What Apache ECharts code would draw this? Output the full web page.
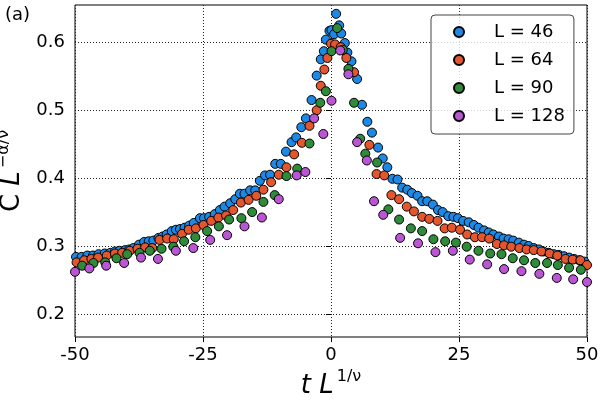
<!DOCTYPE html>
<html>
<head>
<meta charset="utf-8">
<script src="https://cdn.jsdelivr.net/npm/echarts@6/dist/echarts.min.js"></script>
<style>
  html, body { margin: 0; padding: 0; background: #fff; }
  #main { width: 600px; height: 400px; }
</style>
</head>
<body>
<div id="main"></div>
<script>
"use strict";
// values
var l46X = [-49.8, -48.7, -47.6, -46.5, -45.4, -44.2, -43.1, -42.2, -41.3, -40.2, -39.4, -38.6, -37.5, -36.5, -35.6, -34.7,
  -33.7, -32.9, -32.1, -31.1, -30.3, -29.5, -28.6, -27.7, -26.8, -25.6, -24.8, -23.8, -22.7, -21.7, -20.8, -19.7,
  -18.7, -17.8, -16.9, -15.8, -14.8, -13.9, -12.9, -11.9, -10.9, -9.8, -8.8, -7.7, -6.8, -5.8, -4.9, -3.8,
  -2.8, -2.0, -1.4, -1.0, -0.3, 0.1, 0.6, 1.0, 1.6, 2.0, 2.7, 3.2, 4.0, 5.1, 6.05, 7.1,
  8.0, 9.2, 10.1, 11.0, 12.0, 13.0, 13.9, 14.9, 15.8, 16.9, 17.8, 18.8, 19.9, 20.9, 21.8, 22.9,
  23.9, 24.8, 25.8, 26.9, 27.9, 28.8, 29.9, 30.8, 31.7, 32.8, 33.7, 34.7, 35.6, 36.7, 37.7, 38.6,
  39.6, 40.6, 41.5, 42.5, 43.5, 44.5, 45.5, 46.5, 47.5, 48.5, 49.5];
var l46Y = [0.284, 0.284, 0.286, 0.286, 0.288, 0.289, 0.290, 0.292, 0.293, 0.294, 0.295, 0.297, 0.302, 0.306, 0.307, 0.308,
  0.312, 0.314, 0.317, 0.322, 0.324, 0.325, 0.327, 0.330, 0.334, 0.341, 0.341, 0.343, 0.347, 0.353, 0.358, 0.363,
  0.369, 0.377, 0.377, 0.382, 0.382, 0.396, 0.404, 0.405, 0.421, 0.421, 0.439, 0.453, 0.460, 0.475, 0.488, 0.515,
  0.551, 0.575, 0.587, 0.604, 0.617, 0.618, 0.612, 0.642, 0.625, 0.613, 0.599, 0.585, 0.572, 0.546, 0.508, 0.483,
  0.467, 0.445, 0.429, 0.416, 0.399, 0.398, 0.386, 0.383, 0.378, 0.374, 0.366, 0.366, 0.361, 0.353, 0.350, 0.344,
  0.343, 0.341, 0.337, 0.335, 0.331, 0.327, 0.323, 0.320, 0.317, 0.314, 0.311, 0.310, 0.308, 0.305, 0.302, 0.300,
  0.297, 0.295, 0.292, 0.290, 0.288, 0.287, 0.285, 0.283, 0.281, 0.279, 0.277];

var l64X = [-49.7, -48.2, -46.8, -45.5, -43.8, -42.2, -40.8, -39.3, -37.8, -36.3, -34.9, -33.5, -32.0, -30.7, -29.1, -27.8,
  -26.4, -24.9, -23.4, -22.0, -20.5, -19.1, -17.6, -16.1, -14.6, -13.2, -11.7, -10.2, -8.7, -7.2, -5.7, -4.2,
  -2.8, -2.0, -1.3, -0.7, 0.0, 0.8, 1.9, 3.0, 4.5, 7.5, 8.9, 10.4, 11.8, 13.3, 14.8, 16.2,
  17.8, 19.2, 20.8, 22.2, 23.6, 25.2, 26.6, 28.1, 29.5, 30.9, 32.4, 33.8, 35.2, 36.8, 38.2, 39.6,
  41.1, 42.7, 44.2, 45.8, 47.2, 48.7, 50.0];
var l64Y = [0.276, 0.279, 0.281, 0.283, 0.286, 0.289, 0.290, 0.293, 0.296, 0.298, 0.297, 0.309, 0.311, 0.310, 0.318, 0.324,
  0.326, 0.331, 0.337, 0.342, 0.345, 0.353, 0.364, 0.368, 0.374, 0.383, 0.394, 0.405, 0.416, 0.435, 0.452, 0.477,
  0.500, 0.536, 0.560, 0.577, 0.598, 0.597, 0.593, 0.577, 0.556, 0.449, 0.406, 0.404, 0.375, 0.369, 0.358, 0.351,
  0.343, 0.340, 0.337, 0.326, 0.327, 0.324, 0.317, 0.313, 0.313, 0.311, 0.303, 0.301, 0.299, 0.297, 0.295, 0.294,
  0.292, 0.289, 0.286, 0.281, 0.280, 0.279, 0.272];

var l90X = [-48.6, -46.4, -44.1, -41.9, -39.8, -37.4, -35.4, -33.1, -30.8, -28.7, -26.5, -24.2, -21.9, -19.9, -17.5, -15.4,
  -13.2, -11.0, -8.7, -6.6, -4.2, -2.1, -1.0, 0.1, 1.2, 2.3, 3.4, 4.5, 5.7, 6.7, 9.0, 11.2,
  13.3, 15.6, 17.8, 20.0, 22.3, 24.4, 26.5, 28.8, 31.1, 33.3, 35.5, 37.7, 39.9, 42.2, 44.3, 46.5, 48.8];
var l90Y = [0.271, 0.275, 0.276, 0.282, 0.288, 0.290, 0.293, 0.296, 0.299, 0.307, 0.313, 0.322, 0.329, 0.339, 0.341, 0.350,
  0.365, 0.375, 0.403, 0.414, 0.451, 0.511, 0.528, 0.587, 0.621, 0.589, 0.561, 0.511, 0.458, 0.436, 0.423, 0.354,
  0.339, 0.326, 0.322, 0.310, 0.307, 0.305, 0.299, 0.293, 0.289, 0.288, 0.282, 0.279, 0.275, 0.275, 0.272, 0.268, 0.265];

var l128X = [-50.0, -47.2, -43.9, -40.4, -37.1, -33.8, -30.3, -26.9, -23.6, -20.3, -16.9, -13.5, -10.2, -6.7, -5.0, -3.3,
  -1.5, 0.1, 1.8, 3.4, 5.1, 7.0, 8.4, 10.2, 13.5, 17.0, 20.4, 23.8, 27.1, 30.5, 33.8, 37.2,
  40.7, 44.1, 47.3, 50.0];
var l128Y = [0.262, 0.267, 0.271, 0.275, 0.283, 0.281, 0.293, 0.297, 0.309, 0.316, 0.329, 0.342, 0.369, 0.404, 0.409, 0.488,
  0.465, 0.514, 0.588, 0.553, 0.453, 0.426, 0.366, 0.346, 0.312, 0.304, 0.291, 0.293, 0.280, 0.273, 0.266, 0.263,
  0.259, 0.253, 0.251, 0.247];

var seriesNames = ["L = 46", "L = 64", "L = 90", "L = 128"];
var seriesColors = ["#1e88e5", "#e4572e", "#2e8b3a", "#ba55d3"];
var xTicks = [-50, -25, 0, 25, 50];
var yTicks = [0.2, 0.3, 0.4, 0.5, 0.6];

var allX = [l46X, l64X, l90X, l128X];
var allY = [l46Y, l64Y, l90Y, l128Y];

function pairs(xs, ys) {
    return xs.map(function (x, i) { return [x, ys[i]]; });
}

var font = "DejaVu Sans";
var chart = echarts.init(document.getElementById("main"));

var series = seriesNames.map(function (name, k) {
    return {
        name: name,
        type: "scatter",
        data: pairs(allX[k], allY[k]),
        symbol: "circle",
        symbolSize: 9,
        itemStyle: { color: seriesColors[k], borderColor: "#000", borderWidth: 1, opacity: 1 },
        emphasis: { disabled: true },
        z: 2 + k
    };
});

var option = {
    animation: false,
    textStyle: { fontFamily: font },
    title: {
        text: "(a)", left: 0, top: 1,
        textStyle: { fontFamily: font, fontSize: 18, fontWeight: "normal", color: "#000" }
    },
    grid: {
        left: 75, right: 13, top: 5, bottom: 63,
        show: true, borderColor: "#000", borderWidth: 1, backgroundColor: "transparent",
        outerBoundsMode: "none"
    },
    legend: {
        data: seriesNames,
        orient: "vertical",
        left: 431, top: 15,
        itemWidth: 10, itemHeight: 10, itemGap: 8,
        icon: "circle",
        padding: [7, 9, 8, 22],
        backgroundColor: "rgba(255,255,255,0.8)",
        borderColor: "#444", borderWidth: 1, borderRadius: 4,
        textStyle: { fontFamily: font, fontSize: 18, color: "#000", lineHeight: 20, padding: [0, 0, 0, 25] },
        z: 10
    },
    xAxis: {
        type: "value",
        min: xTicks[0], max: xTicks[xTicks.length - 1], interval: 25,
        name: "{i|t L}{s|1/ν}",
        nameLocation: "middle", nameGap: 27,
        nameTextStyle: {
            rich: {
                i: { fontFamily: font, fontStyle: "italic", fontSize: 26, lineHeight: 30, verticalAlign: "bottom", color: "#000" },
                s: { fontFamily: font, fontSize: 16, lineHeight: 20, verticalAlign: "top", color: "#000", padding: [0, 0, 0, 3] }
            }
        },
        axisLine: { show: false },
        axisTick: { show: true, inside: false, length: 5, lineStyle: { color: "#000", width: 1 } },
        axisLabel: { fontFamily: font, fontSize: 18, color: "#000", margin: 9 },
        splitLine: { show: true, lineStyle: { color: "#222", width: 1, type: [1, 2] } }
    },
    yAxis: {
        type: "value",
        min: 0.166, max: 0.655,
        name: "{u|C }{i|L}{s|−α/ν}",
        nameLocation: "middle", nameRotate: 90, nameGap: 46,
        nameTextStyle: {
            rich: {
                u: { fontFamily: font, fontSize: 26, lineHeight: 30, verticalAlign: "bottom", color: "#000" },
                i: { fontFamily: font, fontStyle: "italic", fontSize: 26, lineHeight: 30, verticalAlign: "bottom", color: "#000" },
                s: { fontFamily: font, fontSize: 16, lineHeight: 20, verticalAlign: "top", color: "#000", padding: [0, 0, 0, 3] }
            }
        },
        axisLine: { show: false },
        axisTick: { show: true, inside: false, length: 5, customValues: yTicks, lineStyle: { color: "#000", width: 1 } },
        axisLabel: {
            fontFamily: font, fontSize: 18, color: "#000", margin: 10, customValues: yTicks,
            formatter: function (v) { return v.toFixed(1); }
        },
        splitLine: { show: true, lineStyle: { color: "#222", width: 1, type: [1, 2] } }
    },
    series: series
};

chart.setOption(option);
</script>
</body>
</html>
